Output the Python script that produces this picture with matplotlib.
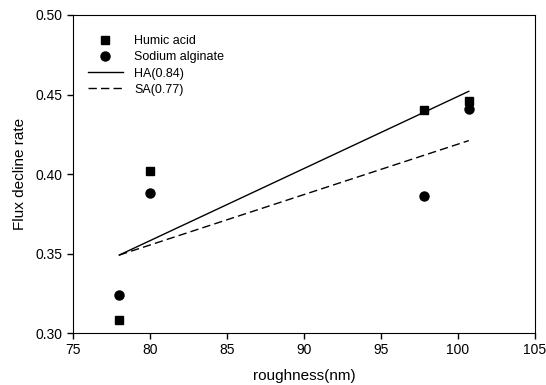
import matplotlib.pyplot as plt

plt.rcParams['font.family'] = ['Liberation Sans', 'DejaVu Sans']

# measured points
roughness = [78.0, 80.0, 97.8, 100.7]
humic_acid = [0.308, 0.402, 0.440, 0.446]
sodium_alginate = [0.324, 0.388, 0.386, 0.441]

# fitted lines (end points)
fit_x = [78.0, 100.7]
fit_ha = [0.349, 0.452]
fit_sa = [0.349, 0.421]

fig = plt.figure(figsize=(5.46, 3.85), dpi=100)
ax = fig.add_axes([73 / 546, 1 - 333 / 385, 462 / 546, 318 / 385])

ax.plot(roughness, humic_acid, linestyle="none", marker="s", markersize=6,
        color="black", label="Humic acid")
ax.plot(roughness, sodium_alginate, linestyle="none", marker="o", markersize=6.5,
        color="black", label="Sodium alginate")
ax.plot(fit_x, fit_ha, color="black", linewidth=1, label="HA(0.84)")
ax.plot(fit_x, fit_sa, color="black", linewidth=1, linestyle=(0, (6, 3)),
        label="SA(0.77)")

ax.set_xlim(75, 105)
ax.set_ylim(0.30, 0.50)
ax.set_xticks([75, 80, 85, 90, 95, 100, 105])
ax.set_yticks([0.30, 0.35, 0.40, 0.45, 0.50])
ax.set_yticklabels(["0.30", "0.35", "0.40", "0.45", "0.50"])
ax.tick_params(direction="out", length=4, width=1, labelsize=10)
ax.set_xlabel("roughness(nm)", fontsize=11, labelpad=8)
ax.set_ylabel("Flux decline rate", fontsize=11, labelpad=6)

ax.legend(loc="upper left", bbox_to_anchor=(0.032, 0.937), frameon=False,
          fontsize=9, handlelength=2.8, handletextpad=0.9,
          labelspacing=0.34, borderaxespad=0, borderpad=0)

plt.savefig("out.png", dpi=100)
